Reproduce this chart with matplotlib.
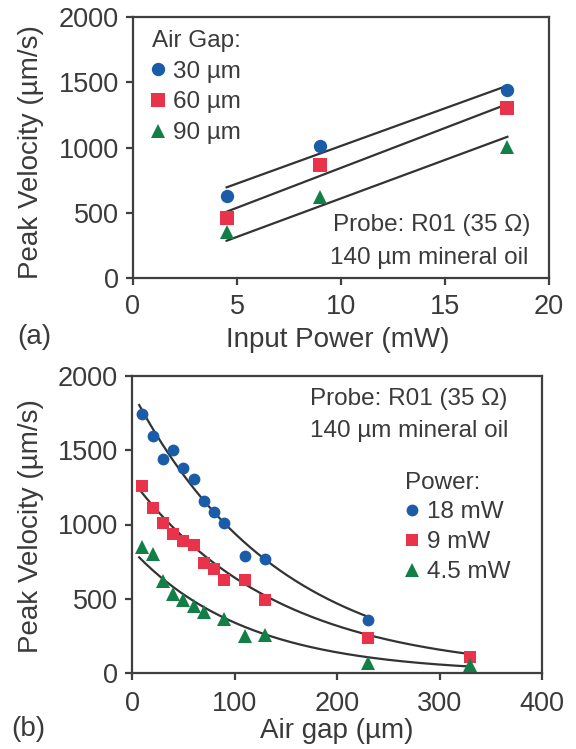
import matplotlib
matplotlib.use("Agg")
import matplotlib.pyplot as plt
import numpy as np

plt.rcParams["font.family"] = ["Liberation Sans", "DejaVu Sans"]

TEXT = "#3a3a3a"
SPINE = "#3f3f3f"
BLUE = "#1a5ca8"
RED = "#e8334a"
GREEN = "#128046"

# ── Panel (a): peak velocity vs input power ──────────────────────────────────
power_mw = [4.5, 9.0, 18.0]
vel_gap30 = [628, 1011, 1438]
vel_gap60 = [457, 863, 1300]
vel_gap90 = [355, 623, 1006]
# straight-line fits: intercept, slope (um/s per mW)
fit_a_intercept = [435, 233, 20]
fit_a_slope = [57.7, 61.1, 59.0]
gap_labels = ["30 µm", "60 µm", "90 µm"]

# ── Panel (b): peak velocity vs air gap ──────────────────────────────────────
gap_um = [10, 20, 30, 40, 50, 60, 70, 80, 90, 110, 130, 230]
vel_18mw = [1742, 1596, 1441, 1500, 1378, 1304, 1156, 1084, 1012, 788, 765, 359]
gap_um_9 = [10, 20, 30, 40, 50, 60, 70, 80, 90, 110, 130, 230, 330]
vel_9mw = [1259, 1113, 1008, 936, 891, 862, 739, 702, 626, 626, 492, 234, 110]
gap_um_45 = [10, 20, 30, 40, 50, 60, 70, 90, 110, 130, 230, 330]
vel_45mw = [850, 799, 622, 530, 492, 451, 413, 361, 249, 256, 65, 54]
# exponential fits A*exp(-gap/tau)
fit_b_amp = [1895, 1300, 829]
fit_b_tau = [143.0, 142.0, 112.0]
fit_b_start = 7
fit_b_end = [230, 330, 330]
power_labels = ["18 mW", "9 mW", "4.5 mW"]

colors = [BLUE, RED, GREEN]
markers = ["o", "s", "^"]
msizes_a = [9.6, 9.6, 10.0]
msizes_b = [8.5, 8.6, 9.6]

TICK_FS = 19.5
LABEL_FS = 20
NOTE_FS = 17.5


def style_axes(ax, xpad):
    for s in ax.spines.values():
        s.set_color(SPINE)
        s.set_linewidth(1.6)
    ax.tick_params(direction="out", length=4.7, width=1.6, colors=SPINE,
                   labelcolor=TEXT, labelsize=TICK_FS)
    ax.tick_params(axis="y", pad=5.3)
    ax.tick_params(axis="x", pad=xpad)


def style_legend(leg):
    for t in leg.get_texts():
        t.set_color(TEXT)
    leg.get_title().set_color(TEXT)


fig = plt.figure(figsize=(5.76, 7.49), dpi=100)

ax1 = fig.add_axes([133 / 576, 1 - 278 / 749, 416 / 576, 261 / 749])
ax2 = fig.add_axes([132 / 576, 1 - 673 / 749, 410 / 576, 297 / 749])

# panel (a)
series_a = [vel_gap30, vel_gap60, vel_gap90]
handles = []
for i, vals in enumerate(series_a):
    xs = np.array([power_mw[0], power_mw[-1]])
    ax1.plot(xs, fit_a_intercept[i] + fit_a_slope[i] * xs, color="#333333",
             lw=1.6, zorder=2)
    h, = ax1.plot(power_mw, vals, ls="none", marker=markers[i], ms=msizes_a[i],
                  color=colors[i], mew=0, zorder=3, label=gap_labels[i])
    handles.append(h)

ax1.set_xlim(0, 20)
ax1.set_ylim(0, 2000)
ax1.set_xticks([0, 5, 10, 15, 20])
ax1.set_yticks([0, 500, 1000, 1500, 2000])
style_axes(ax1, xpad=6.5)
ax1.set_xlabel("Input Power (mW)", fontsize=LABEL_FS, color=TEXT)
ax1.set_ylabel("Peak Velocity (µm/s)", fontsize=LABEL_FS, color=TEXT)
ax1.yaxis.set_label_coords(-0.214, 0.481)
ax1.xaxis.label.set_va("baseline")
ax1.xaxis.set_label_coords(0.493, -0.263)

leg1 = ax1.legend(handles=handles, title="Air Gap:", loc="upper left",
                  bbox_to_anchor=(0.0447, 0.951), frameon=False,
                  fontsize=NOTE_FS, title_fontsize=NOTE_FS, alignment="left",
                  handlelength=0.55, handletextpad=0.34, labelspacing=0.36,
                  borderaxespad=0.0, borderpad=0.0)
style_legend(leg1)

ax1.text(0.718, 0.203, "Probe: R01 (35 Ω)", transform=ax1.transAxes,
         ha="center", va="center", fontsize=NOTE_FS, color=TEXT)
ax1.text(0.713, 0.077, "140 µm mineral oil", transform=ax1.transAxes,
         ha="center", va="center", fontsize=NOTE_FS, color=TEXT)

# panel (b)
series_b = [(gap_um, vel_18mw), (gap_um_9, vel_9mw), (gap_um_45, vel_45mw)]
handles_b = []
for i, (gx, gv) in enumerate(series_b):
    xs = np.linspace(fit_b_start, fit_b_end[i], 200)
    ax2.plot(xs, fit_b_amp[i] * np.exp(-xs / fit_b_tau[i]), color="#333333",
             lw=1.6, zorder=2)
    h, = ax2.plot(gx, gv, ls="none", marker=markers[i], ms=msizes_b[i],
                  color=colors[i], mew=0, zorder=3, label=power_labels[i])
    handles_b.append(h)

ax2.set_xlim(0, 400)
ax2.set_ylim(0, 2000)
ax2.set_xticks([0, 100, 200, 300, 400])
ax2.set_yticks([0, 500, 1000, 1500, 2000])
style_axes(ax2, xpad=8.5)
ax2.set_xlabel("Air gap (µm)", fontsize=LABEL_FS, color=TEXT)
ax2.set_ylabel("Peak Velocity (µm/s)", fontsize=LABEL_FS, color=TEXT)
ax2.yaxis.set_label_coords(-0.2146, 0.495)
ax2.xaxis.label.set_va("baseline")
ax2.xaxis.set_label_coords(0.5, -0.219)

ax2.text(0.676, 0.9215, "Probe: R01 (35 Ω)", transform=ax2.transAxes,
         ha="center", va="center", fontsize=NOTE_FS, color=TEXT)
ax2.text(0.676, 0.816, "140 µm mineral oil", transform=ax2.transAxes,
         ha="center", va="center", fontsize=NOTE_FS, color=TEXT)

leg2 = ax2.legend(handles=handles_b, title="Power:", loc="upper left",
                  bbox_to_anchor=(0.667, 0.678), frameon=False,
                  fontsize=NOTE_FS, title_fontsize=NOTE_FS, alignment="left",
                  handlelength=0.55, handletextpad=0.34, labelspacing=0.32,
                  borderaxespad=0.0, borderpad=0.0)
style_legend(leg2)

fig.text(34 / 576, 1 - 337 / 749, "(a)", ha="center", va="center",
         fontsize=LABEL_FS, color=TEXT)
fig.text(28 / 576, 1 - 729 / 749, "(b)", ha="center", va="center",
         fontsize=LABEL_FS, color=TEXT)

fig.savefig("out.png", dpi=100)
